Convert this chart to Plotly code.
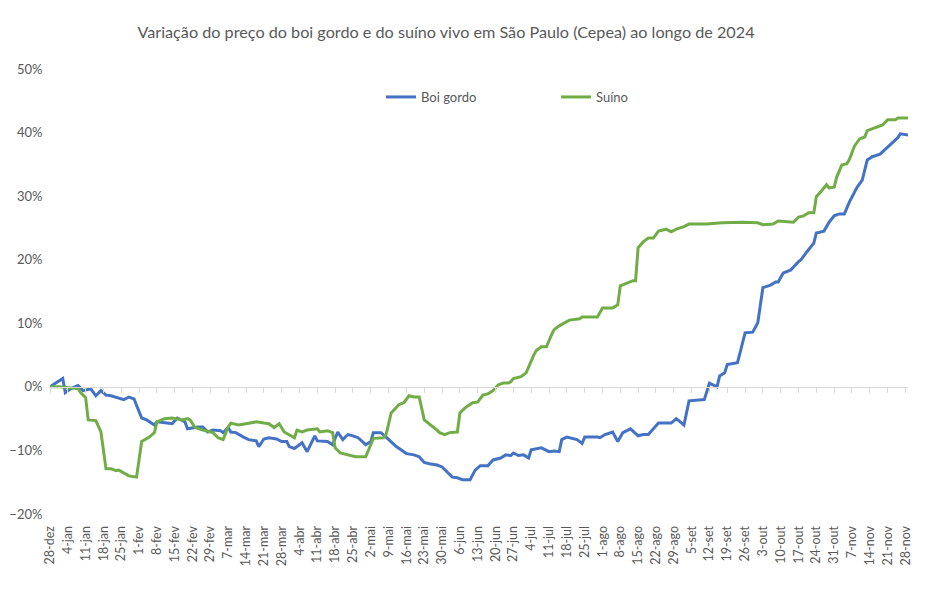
import plotly.graph_objects as go
import pandas as pd

TITLE = "Variação do preço do boi gordo e do suíno vivo em São Paulo (Cepea) ao longo de 2024"
SERIES_NAMES = ["Boi gordo", "Suíno"]
MONTHS_PT = ["jan", "fev", "mar", "abr", "mai", "jun", "jul", "ago", "set", "out", "nov", "dez"]

boi_dates = [
    "2023-12-28", "2024-01-02", "2024-01-03", "2024-01-05", "2024-01-08", "2024-01-10", "2024-01-13",
    "2024-01-15", "2024-01-17", "2024-01-19", "2024-01-21", "2024-01-23", "2024-01-26", "2024-01-28",
    "2024-01-30", "2024-02-02", "2024-02-04", "2024-02-07", "2024-02-08", "2024-02-12", "2024-02-14",
    "2024-02-16", "2024-02-19", "2024-02-20", "2024-02-24", "2024-02-26", "2024-02-28", "2024-03-01",
    "2024-03-04", "2024-03-05", "2024-03-07", "2024-03-08", "2024-03-10", "2024-03-13", "2024-03-15",
    "2024-03-18", "2024-03-19", "2024-03-21", "2024-03-23", "2024-03-26", "2024-03-28", "2024-03-30",
    "2024-03-31", "2024-04-02", "2024-04-03", "2024-04-05", "2024-04-07", "2024-04-10", "2024-04-11",
    "2024-04-15", "2024-04-17", "2024-04-19", "2024-04-21", "2024-04-23", "2024-04-25", "2024-04-27",
    "2024-04-30", "2024-05-02", "2024-05-03", "2024-05-06", "2024-05-08", "2024-05-10", "2024-05-12",
    "2024-05-16", "2024-05-19", "2024-05-21", "2024-05-23", "2024-05-25", "2024-05-28", "2024-05-30",
    "2024-06-01", "2024-06-03", "2024-06-05", "2024-06-07", "2024-06-10", "2024-06-12", "2024-06-14",
    "2024-06-17", "2024-06-19", "2024-06-22", "2024-06-24", "2024-06-26", "2024-06-27", "2024-06-29",
    "2024-07-01", "2024-07-03", "2024-07-04", "2024-07-08", "2024-07-11", "2024-07-13", "2024-07-15",
    "2024-07-16", "2024-07-18", "2024-07-22", "2024-07-24", "2024-07-25", "2024-07-30", "2024-07-31",
    "2024-08-02", "2024-08-05", "2024-08-07", "2024-08-09", "2024-08-12", "2024-08-15", "2024-08-17",
    "2024-08-19", "2024-08-23", "2024-08-28", "2024-08-30", "2024-09-02",
    "2024-09-04", "2024-09-10", "2024-09-12", "2024-09-15", "2024-09-16", "2024-09-18", "2024-09-19",
    "2024-09-23", "2024-09-24", "2024-09-26", "2024-09-29", "2024-10-01", "2024-10-03", "2024-10-06",
    "2024-10-08", "2024-10-09", "2024-10-11", "2024-10-14", "2024-10-17", "2024-10-18", "2024-10-20",
    "2024-10-22", "2024-10-23", "2024-10-24", "2024-10-27", "2024-10-29", "2024-10-31", "2024-11-02",
    "2024-11-04", "2024-11-06", "2024-11-07", "2024-11-09", "2024-11-11", "2024-11-13", "2024-11-15",
    "2024-11-18", "2024-11-21", "2024-11-23", "2024-11-25", "2024-11-26", "2024-11-29",
]
boi_values = [
    0.0, 1.3, -0.9, -0.3, 0.2, -0.6, -0.3,
    -1.4, -0.6, -1.3, -1.4, -1.6, -2.0, -1.6,
    -1.9, -4.9, -5.2, -6.0, -5.5, -5.7, -5.8,
    -4.9, -5.5, -6.6, -6.3, -6.3, -7.1, -6.8,
    -6.9, -7.2, -6.4, -7.1, -7.2, -7.9, -8.3,
    -8.5, -9.4, -8.2, -8.0, -8.2, -8.6, -8.6,
    -9.4, -9.7, -9.4, -8.8, -10.2, -7.7, -8.5,
    -8.6, -9.1, -7.1, -8.3, -7.5, -7.7, -8.0,
    -9.1, -8.6, -7.2, -7.2, -7.9, -8.6, -9.4,
    -10.5, -10.7, -11.0, -11.9, -12.1, -12.3, -12.6,
    -13.4, -14.2, -14.3, -14.6, -14.6, -13.1, -12.4,
    -12.4, -11.5, -11.2, -10.7, -10.8, -10.4, -10.8,
    -10.7, -11.2, -9.9, -9.6, -10.2, -10.1, -10.2,
    -8.3, -7.9, -8.3, -8.9, -7.9, -7.9, -8.0,
    -7.5, -7.1, -8.6, -7.2, -6.6, -7.7, -7.5,
    -7.5, -5.7, -5.7, -5.0, -6.0,
    -2.2, -2.0, 0.6, 0.0, 1.7, 2.2, 3.5,
    3.8, 5.3, 8.5, 8.6, 10.1, 15.6, 16.0,
    16.5, 16.5, 17.9, 18.4, 19.7, 20.0, 21.1,
    22.0, 22.6, 24.2, 24.5, 25.9, 26.9, 27.2,
    27.2, 29.1, 29.9, 31.4, 32.5, 35.7, 36.2,
    36.6, 37.7, 38.4, 39.2, 39.8, 39.6,
]

suino_dates = [
    "2023-12-28", "2024-01-01", "2024-01-06", "2024-01-08", "2024-01-09", "2024-01-11", "2024-01-12",
    "2024-01-15", "2024-01-17", "2024-01-19", "2024-01-21", "2024-01-23", "2024-01-24", "2024-01-26",
    "2024-01-28", "2024-01-31", "2024-02-02", "2024-02-05", "2024-02-07", "2024-02-08", "2024-02-11",
    "2024-02-14", "2024-02-16", "2024-02-18", "2024-02-20", "2024-02-21", "2024-02-23", "2024-02-26",
    "2024-03-01", "2024-03-03", "2024-03-05", "2024-03-07", "2024-03-08", "2024-03-11", "2024-03-14",
    "2024-03-18", "2024-03-21", "2024-03-23", "2024-03-25", "2024-03-27", "2024-03-29", "2024-03-31",
    "2024-04-02", "2024-04-03", "2024-04-05", "2024-04-07", "2024-04-11", "2024-04-12", "2024-04-15",
    "2024-04-17", "2024-04-18", "2024-04-20", "2024-04-23", "2024-04-26", "2024-04-30", "2024-05-03",
    "2024-05-07", "2024-05-08", "2024-05-10", "2024-05-13", "2024-05-15", "2024-05-17", "2024-05-19",
    "2024-05-21", "2024-05-23", "2024-05-25", "2024-05-28", "2024-05-29", "2024-05-31", "2024-06-02",
    "2024-06-05", "2024-06-06", "2024-06-08", "2024-06-11", "2024-06-13", "2024-06-15", "2024-06-17",
    "2024-06-19", "2024-06-21", "2024-06-23", "2024-06-25", "2024-06-26", "2024-06-27", "2024-06-30",
    "2024-07-02", "2024-07-05", "2024-07-06", "2024-07-08", "2024-07-10", "2024-07-12", "2024-07-13",
    "2024-07-15", "2024-07-19", "2024-07-23", "2024-07-24", "2024-07-30", "2024-08-01", "2024-08-05",
    "2024-08-07", "2024-08-08", "2024-08-11", "2024-08-13", "2024-08-14", "2024-08-15", "2024-08-17",
    "2024-08-19", "2024-08-21", "2024-08-23", "2024-08-26", "2024-08-28", "2024-08-30", "2024-09-02",
    "2024-09-04", "2024-09-11", "2024-09-17", "2024-09-25", "2024-10-01", "2024-10-03", "2024-10-07",
    "2024-10-09", "2024-10-15", "2024-10-17", "2024-10-19", "2024-10-21", "2024-10-23", "2024-10-24",
    "2024-10-26", "2024-10-28", "2024-10-29", "2024-10-31", "2024-11-01", "2024-11-03", "2024-11-05",
    "2024-11-06", "2024-11-08", "2024-11-10", "2024-11-12", "2024-11-13", "2024-11-17", "2024-11-19",
    "2024-11-21", "2024-11-24", "2024-11-25", "2024-11-29",
]
suino_values = [
    0.0, 0.0, -0.2, -0.3, -0.9, -1.7, -5.2,
    -5.3, -7.1, -12.9, -12.9, -13.2, -13.1, -13.5,
    -14.0, -14.2, -8.6, -7.9, -7.2, -5.5, -5.0,
    -4.9, -5.0, -5.2, -5.0, -5.2, -6.4, -6.8,
    -7.2, -8.0, -8.3, -6.3, -5.7, -6.0, -5.8,
    -5.5, -5.7, -5.8, -6.4, -5.8, -7.1, -7.5,
    -8.0, -6.8, -7.1, -6.8, -6.6, -7.1, -6.9,
    -7.2, -9.6, -10.4, -10.7, -11.0, -11.0, -8.1,
    -8.0, -7.5, -4.1, -2.8, -2.5, -1.4, -1.6,
    -1.6, -5.2, -5.8, -6.8, -7.2, -7.5, -7.2,
    -7.1, -4.1, -3.3, -2.5, -2.4, -1.3, -1.1,
    -0.6, 0.3, 0.6, 0.6, 0.8, 1.3, 1.6,
    2.2, 5.0, 5.7, 6.3, 6.3, 8.2, 9.0,
    9.6, 10.5, 10.7, 11.0, 11.0, 12.4, 12.4,
    12.9, 15.9, 16.4, 16.7, 16.7, 21.9, 22.8,
    23.4, 23.4, 24.5, 24.8, 24.4, 24.8, 25.2,
    25.6, 25.6, 25.8, 25.9, 25.8, 25.5, 25.6,
    26.1, 25.9, 26.7, 26.9, 27.4, 27.4, 29.9,
    30.8, 31.8, 31.3, 31.4, 33.0, 34.9, 35.1,
    35.8, 37.9, 39.0, 39.3, 40.3, 40.9, 41.2,
    42.0, 42.0, 42.3, 42.3,
]

X_START = "2023-12-28"
X_END = "2024-11-29"
Y_RANGE = [-20, 50]

tick_dates = pd.date_range(X_START, "2024-11-28", freq="7D")
tick_text = [f"{d.day}-{MONTHS_PT[d.month - 1]}" for d in tick_dates]

GRAY = "#595959"
AXIS_GRAY = "#D9D9D9"
FONT = "Lato"

fig = go.Figure()
fig.add_trace(go.Scatter(x=pd.to_datetime(boi_dates), y=boi_values, mode="lines",
                         name=SERIES_NAMES[0], line=dict(color="#4472C4", width=3)))
fig.add_trace(go.Scatter(x=pd.to_datetime(suino_dates), y=suino_values, mode="lines",
                         name=SERIES_NAMES[1], line=dict(color="#70AD47", width=3)))
# invisible helper trace so the zero-crossing category axis (x2) is drawn
fig.add_trace(go.Scatter(x=[pd.Timestamp(X_START)], y=[0], xaxis="x2", yaxis="y",
                         mode="markers", marker=dict(opacity=0), showlegend=False,
                         hoverinfo="skip"))

zero_pos = (0 - Y_RANGE[0]) / (Y_RANGE[1] - Y_RANGE[0])

fig.update_layout(
    width=949, height=591,
    margin=dict(l=50, r=41, t=69, b=77, autoexpand=False),
    paper_bgcolor="white", plot_bgcolor="white",
    font=dict(family=FONT, color=GRAY, size=12),
    title=dict(text=TITLE, x=446 / 949, xref="container", xanchor="center",
               y=1 - 32 / 591, yref="container", yanchor="middle",
               font=dict(family=FONT, size=16.2, color=GRAY)),
    legend=dict(orientation="h", x=381 / 949, xref="container", xanchor="left",
                y=1 - 97 / 591, yref="container", yanchor="middle",
                entrywidth=130, entrywidthmode="pixels",
                font=dict(family=FONT, size=13, color=GRAY), bgcolor="rgba(0,0,0,0)"),
    showlegend=True,
    xaxis=dict(type="date", range=[X_START, X_END], tickmode="array",
               tickvals=tick_dates, ticktext=tick_text, tickangle=-90,
               showgrid=False, zeroline=False, showline=False,
               ticks="outside", ticklen=6, tickcolor="rgba(0,0,0,0)",
               tickfont=dict(family=FONT, size=12.5, color=GRAY)),
    xaxis2=dict(type="date", range=[X_START, X_END], overlaying="x", anchor="free",
                position=zero_pos, side="bottom", tickmode="array", tickvals=tick_dates,
                showticklabels=False, showgrid=False, zeroline=False,
                showline=True, linecolor=AXIS_GRAY, linewidth=1,
                ticks="outside", ticklen=5, tickcolor=AXIS_GRAY, tickwidth=1),
    yaxis=dict(range=Y_RANGE, dtick=10, ticksuffix="%", showgrid=False,
               zeroline=False, showline=False, ticks="outside", ticklen=4,
               tickcolor="rgba(0,0,0,0)",
               tickfont=dict(family=FONT, size=13, color=GRAY)),
)

fig.write_html("out.html")
